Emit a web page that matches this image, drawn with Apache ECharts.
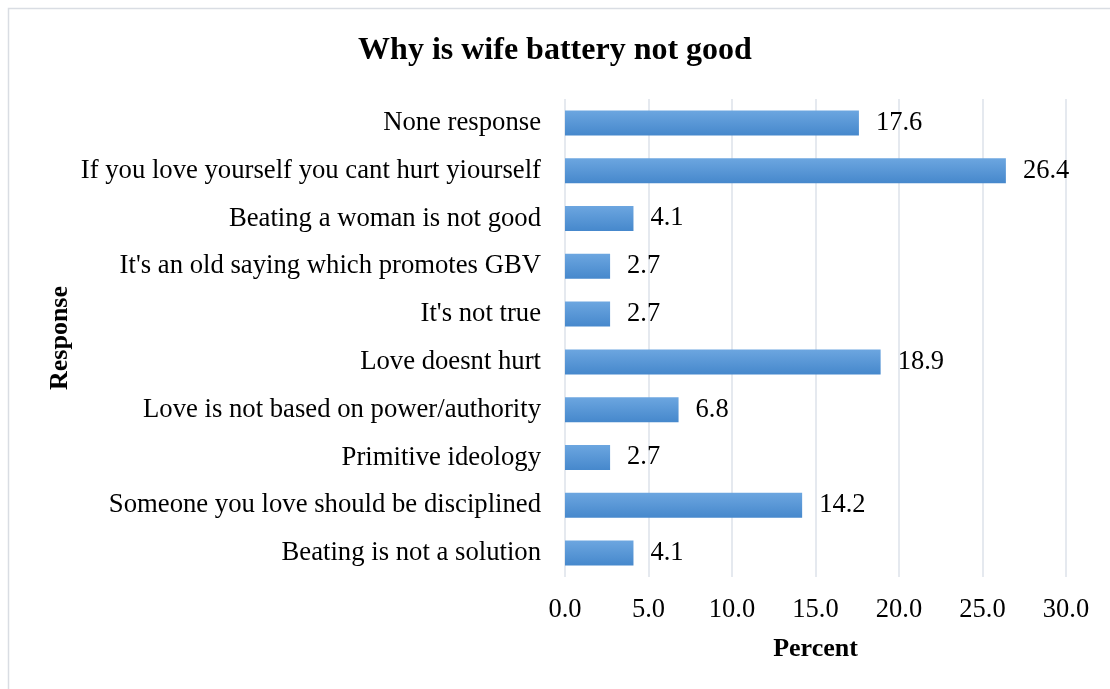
<!DOCTYPE html>
<html>
<head>
<meta charset="utf-8">
<script src="https://cdn.jsdelivr.net/npm/echarts@6/dist/echarts.min.js"></script>
<style>
    html, body { margin: 0; padding: 0; background: #fff; }
    #chart { width: 1110px; height: 689px; }
</style>
</head>
<body>
<div id="chart"></div>
<script>
const responses = [
    'None response',
    'If you love yourself you cant hurt yiourself',
    'Beating a woman is not good',
    "It's an old saying which promotes GBV",
    "It's not true",
    'Love doesnt hurt',
    'Love is not based on power/authority',
    'Primitive ideology',
    'Someone you love should be disciplined',
    'Beating is not a solution'
];
const percents = [17.6, 26.4, 4.1, 2.7, 2.7, 18.9, 6.8, 2.7, 14.2, 4.1];

const serif = '"Liberation Serif", "Times New Roman", serif';

const chart = echarts.init(document.getElementById('chart'));

chart.setOption({
    animation: false,
    textStyle: { fontFamily: serif },
    title: {
        text: 'Why is wife battery not good',
        left: 'center',
        top: 30,
        textStyle: { fontFamily: serif, fontSize: 32, fontWeight: 'bold', color: '#000' }
    },
    graphic: [{
        type: 'rect',
        shape: { x: 8.5, y: 8.5, width: 1300, height: 900 },
        style: { fill: 'none', stroke: '#d9dde3', lineWidth: 1.5 },
        silent: true
    }],
    grid: { left: 565, right: 44, top: 99, bottom: 112 },
    xAxis: {
        type: 'value',
        min: 0,
        max: 30,
        interval: 5,
        name: 'Percent',
        nameLocation: 'middle',
        nameGap: 59,
        nameTextStyle: { fontFamily: serif, fontSize: 26, fontWeight: 'bold', color: '#000' },
        axisLine: { show: false },
        axisTick: { show: false },
        axisLabel: {
            margin: 20,
            fontFamily: serif,
            fontSize: 26.5,
            color: '#000',
            formatter: v => v.toFixed(1)
        },
        splitLine: { lineStyle: { color: '#dde2ea', width: 1.5 } }
    },
    yAxis: {
        type: 'category',
        inverse: true,
        data: responses,
        name: 'Response',
        nameLocation: 'middle',
        nameGap: 492,
        nameRotate: 90,
        nameTextStyle: { fontFamily: serif, fontSize: 26, fontWeight: 'bold', color: '#000' },
        axisLine: { show: false },
        axisTick: { show: false },
        axisLabel: { margin: 24, fontFamily: serif, fontSize: 26.7, color: '#000' }
    },
    series: [{
        type: 'bar',
        data: percents,
        barWidth: 25,
        itemStyle: {
            color: new echarts.graphic.LinearGradient(0, 0, 0, 1, [
                { offset: 0, color: '#6ca6e0' },
                { offset: 1, color: '#4688cc' }
            ])
        },
        label: {
            show: true,
            position: 'right',
            distance: 17,
            fontFamily: serif,
            fontSize: 26.5,
            color: '#000',
            formatter: p => p.value.toFixed(1)
        }
    }]
});
</script>
</body>
</html>
